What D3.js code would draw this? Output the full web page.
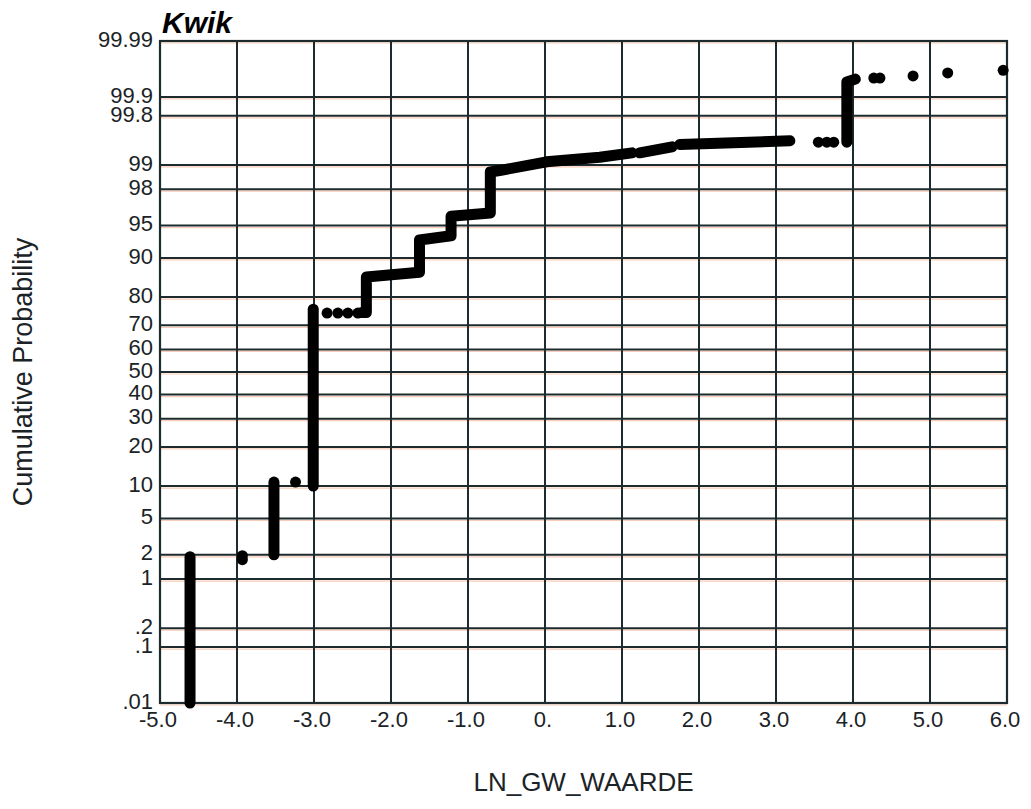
<!DOCTYPE html>
<html>
<head>
<meta charset="utf-8">
<script src="https://cdn.jsdelivr.net/npm/d3@7"></script>
<style>
  body { margin: 0; background: #fff; }
  text { font-family: "Liberation Sans", Arial, Helvetica, sans-serif; fill: #1b2326; }
</style>
</head>
<body>
<svg id="chart" width="1031" height="809"></svg>
<script>
// axis ticks
const xTicks      = [-5, -4, -3, -2, -1, 0, 1, 2, 3, 4, 5, 6];
const xTickLabels = ["-5.0", "-4.0", "-3.0", "-2.0", "-1.0", "0.", "1.0", "2.0", "3.0", "4.0", "5.0", "6.0"];
const yTicks      = [0.01, 0.1, 0.2, 1, 2, 5, 10, 20, 30, 40, 50, 60, 70, 80, 90, 95, 98, 99, 99.8, 99.9, 99.99];
const yTickLabels = [".01", ".1", ".2", "1", "2", "5", "10", "20", "30", "40", "50", "60", "70", "80", "90", "95", "98", "99", "99.8", "99.9", "99.99"];

// data: [LN_GW_WAARDE, cumulative %]
// dense stacks of tied values (drawn as one thick run)
const runs = [
  [[-4.61, 0.01], [-4.61, 1.9]],
  [[-3.52, 2.0], [-3.52, 10.8]],
  [[-3.01, 10.0], [-3.01, 76.0]],
  [[-2.38, 74.8], [-2.32, 74.8], [-2.32, 85.7], [-1.63, 86.9], [-1.63, 93.1], [-1.22, 93.7],
   [-1.22, 96.0], [-0.71, 96.3], [-0.71, 98.77], [-0.59, 98.82], [0.02, 99.09], [0.71, 99.21], [1.13, 99.31]],
  [[1.23, 99.31], [1.65, 99.43]],
  [[1.75, 99.47], [3.18, 99.53]],
  [[3.92, 99.51], [3.92, 99.944], [4.03, 99.95]]
];
// isolated points
const dots = [
  [-3.93, 1.95], [-3.93, 1.75], [-3.24, 10.8],
  [-2.83, 74.6], [-2.69, 74.6], [-2.56, 74.6], [-2.43, 74.6],
  [3.55, 99.51], [3.66, 99.51], [3.75, 99.51],
  [4.27, 99.952], [4.35, 99.952],
  [4.78, 99.956], [5.23, 99.961], [5.95, 99.965]
];

// inverse normal cdf (Acklam) for the probability axis
function probit(p) {
  const a = [-3.969683028665376e+01, 2.209460984245205e+02, -2.759285104469687e+02, 1.383577518672690e+02, -3.066479806614716e+01, 2.506628277459239e+00];
  const b = [-5.447609879822406e+01, 1.615858368580409e+02, -1.556989798598866e+02, 6.680131188771972e+01, -1.328068155288572e+01];
  const c = [-7.784894002430293e-03, -3.223964580411365e-01, -2.400758277161838e+00, -2.549671010336337e+00, 4.374664141464968e+00, 2.938163982698783e+00];
  const d = [7.784695709041462e-03, 3.224671290700398e-01, 2.445134137142996e+00, 3.754408661907416e+00];
  const pl = 0.02425;
  if (p < pl) {
    const q = Math.sqrt(-2 * Math.log(p));
    return (((((c[0]*q+c[1])*q+c[2])*q+c[3])*q+c[4])*q+c[5]) / ((((d[0]*q+d[1])*q+d[2])*q+d[3])*q+1);
  }
  if (p > 1 - pl) {
    const q = Math.sqrt(-2 * Math.log(1 - p));
    return -(((((c[0]*q+c[1])*q+c[2])*q+c[3])*q+c[4])*q+c[5]) / ((((d[0]*q+d[1])*q+d[2])*q+d[3])*q+1);
  }
  const q = p - 0.5, r = q * q;
  return (((((a[0]*r+a[1])*r+a[2])*r+a[3])*r+a[4])*r+a[5])*q / (((((b[0]*r+b[1])*r+b[2])*r+b[3])*r+b[4])*r+1);
}

const svg = d3.select("#chart");
const plotL = 160, plotR = 1007, plotT = 41, plotB = 703;
const GRID = "#1d2a2e";

const x = d3.scaleLinear().domain([-5, 6]).range([plotL, plotR]);
const zScale = d3.scaleLinear().domain([probit(0.0001), probit(0.9999)]).range([plotB, plotT]);
const y = p => zScale(probit(p / 100));

// grid: horizontal lines with a faint orange fringe
const grid = svg.append("g");
grid.selectAll("line.hf")
  .data(yTicks)
  .join("line")
    .attr("class", "hf")
    .attr("x1", plotL).attr("x2", plotR)
    .attr("y1", d => y(d) + 2).attr("y2", d => y(d) + 2)
    .style("stroke", "#f2a27e")
    .style("stroke-opacity", 0.55)
    .style("stroke-width", 1.2);
grid.selectAll("line.h")
  .data(yTicks)
  .join("line")
    .attr("class", "h")
    .attr("x1", plotL).attr("x2", plotR)
    .attr("y1", d => y(d)).attr("y2", d => y(d))
    .style("stroke", GRID)
    .style("stroke-width", 2);
grid.selectAll("line.v")
  .data(xTicks)
  .join("line")
    .attr("class", "v")
    .attr("x1", d => x(d)).attr("x2", d => x(d))
    .attr("y1", plotT).attr("y2", plotB)
    .style("stroke", GRID)
    .style("stroke-width", 2);
grid.append("rect")
  .attr("x", plotL).attr("y", plotT)
  .attr("width", plotR - plotL).attr("height", plotB - plotT)
  .style("fill", "none")
  .style("stroke", GRID)
  .style("stroke-width", 2.2);

// tick labels
svg.append("g")
  .selectAll("text")
  .data(yTicks)
  .join("text")
    .attr("x", plotL - 7)
    .attr("y", d => y(d) - 2)
    .attr("dy", "0.35em")
    .attr("text-anchor", "end")
    .style("font-size", "22px")
    .text((d, i) => yTickLabels[i]);

svg.append("g")
  .selectAll("text")
  .data(xTicks)
  .join("text")
    .attr("x", d => x(d) - 2)
    .attr("y", plotB + 24)
    .attr("text-anchor", "middle")
    .style("font-size", "22px")
    .text((d, i) => xTickLabels[i]);

// data marks
const line = d3.line().x(d => x(d[0])).y(d => y(d[1]));
svg.append("g")
  .selectAll("path")
  .data(runs)
  .join("path")
    .attr("d", line)
    .style("fill", "none")
    .style("stroke", "#000")
    .style("stroke-width", 11)
    .style("stroke-linecap", "round")
    .style("stroke-linejoin", "round");

svg.append("g")
  .selectAll("circle")
  .data(dots)
  .join("circle")
    .attr("cx", d => x(d[0]))
    .attr("cy", d => y(d[1]))
    .attr("r", 5.5)
    .style("fill", "#000");

// titles
svg.append("text")
  .attr("x", plotL + 2)
  .attr("y", 33)
  .style("font-size", "30px")
  .style("font-weight", "bold")
  .style("font-style", "italic")
  .style("fill", "#000")
  .text("Kwik");

svg.append("text")
  .attr("x", (plotL + plotR) / 2)
  .attr("y", 791)
  .attr("text-anchor", "middle")
  .style("font-size", "26px")
  .text("LN_GW_WAARDE");

svg.append("text")
  .attr("transform", `translate(32,${(plotT + plotB) / 2}) rotate(-90)`)
  .attr("text-anchor", "middle")
  .style("font-size", "27px")
  .text("Cumulative Probability");
</script>
</body>
</html>
